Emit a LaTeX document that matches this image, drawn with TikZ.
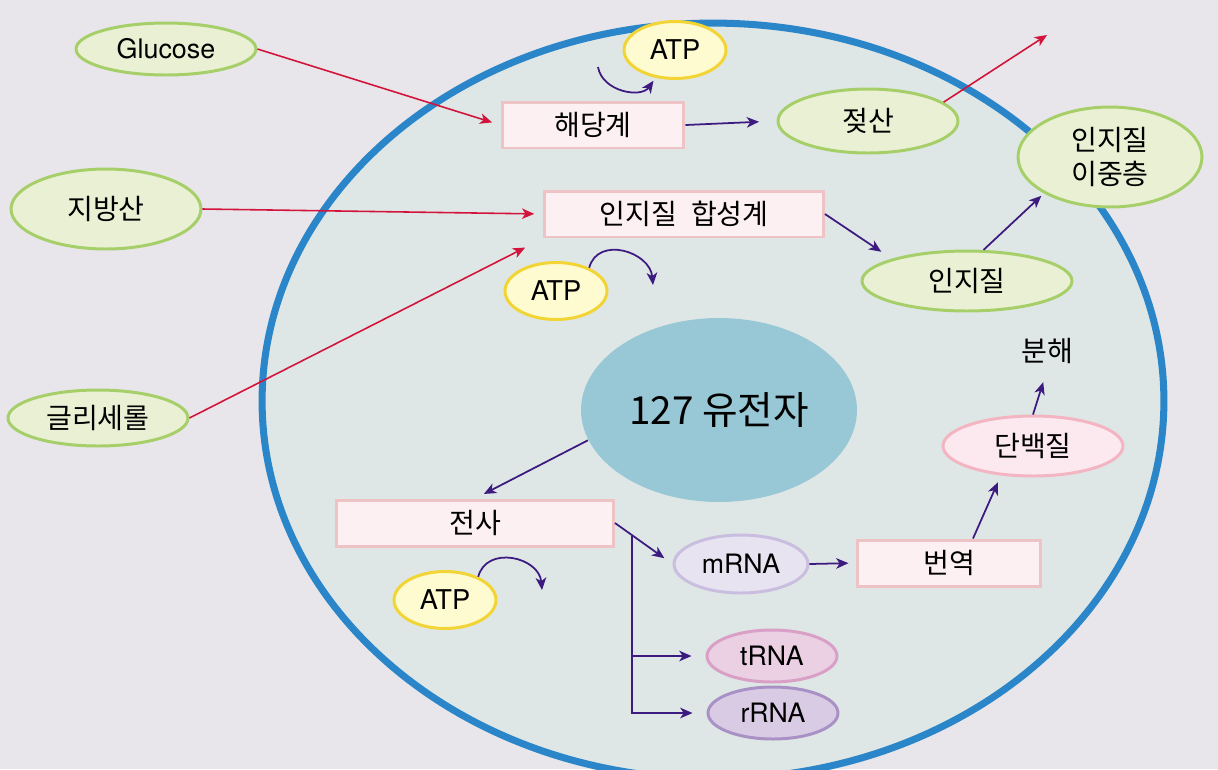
\documentclass[tikz,border=0pt]{standalone}
\usepackage{fontspec}
\setmainfont{Noto Sans CJK KR}
\newfontfamily\latfont{TeX Gyre Heros}
\usetikzlibrary{%
  arrows,%
  arrows.meta,%
  shapes,% wg. ellipse
  positioning%
}
\definecolor{bgcol}{HTML}{E8E6EA}
\definecolor{cellfill}{HTML}{DFE7E6}
\definecolor{cellline}{HTML}{2A86C8}
\definecolor{subfill}{HTML}{EAF0D3}
\definecolor{subline}{HTML}{A6CF6A}
\definecolor{atpfill}{HTML}{FFFBD0}
\definecolor{atpline}{HTML}{F2D434}
\definecolor{boxfill}{HTML}{FDF0F3}
\definecolor{boxline}{HTML}{EDC3C5}
\definecolor{genefill}{HTML}{98C8D6}
\definecolor{protfill}{HTML}{FCE9EF}
\definecolor{protline}{HTML}{F2B5C1}
\definecolor{mfill}{HTML}{E7E3F0}
\definecolor{mline}{HTML}{C9BEDF}
\definecolor{tfill}{HTML}{EAD0E2}
\definecolor{tline}{HTML}{D99FC6}
\definecolor{rfill}{HTML}{D9CBE4}
\definecolor{rline}{HTML}{A991C6}
\definecolor{arrred}{HTML}{D2143A}
\definecolor{arrpurple}{HTML}{3C1A80}

\begin{document}
\begin{tikzpicture}
[x=0.02cm, y=-0.02cm, font=\fontsize{16}{19}\selectfont, line width=0.75pt,
>={Stealth[length=7pt,width=6pt,inset=2pt]},
proc/.style={rectangle, draw=boxline, fill=boxfill, line width=1.7pt, inner sep=0pt, minimum height=0.92cm},
subst/.style={ellipse, draw=subline, fill=subfill, line width=1.7pt, inner sep=0pt},
atp/.style={ellipse, draw=atpline, fill=atpfill, line width=1.7pt, inner sep=0pt, minimum width=2.04cm, minimum height=1.14cm, font=\latfont\fontsize{15.5}{18}\selectfont},
rna/.style={ellipse, line width=1.7pt, inner sep=0pt, minimum width=2.6cm, minimum height=1.04cm, font=\latfont\fontsize{15.2}{18}\selectfont},
redline/.style={->, draw=arrred, line width=0.9pt},
purpline/.style={->, draw=arrpurple, line width=1pt}]

% background and cell
\useasboundingbox (0,0) rectangle (1218,769);
\fill[bgcol] (0,0) rectangle (1218,769);
\draw[cellline, fill=cellfill, line width=4pt] (713,401) ellipse [x radius=9.02cm, y radius=7.56cm];

% substrates
\node[subst, minimum width=3.6cm, minimum height=1.04cm, font=\latfont\fontsize{15.3}{18}\selectfont] (glucose) at (166,49) {Glucose};
\node[subst, minimum width=3.8cm, minimum height=1.6cm] (fatacid) at (106,209) {지방산};
\node[subst, minimum width=3.6cm, minimum height=1.12cm] (glycerol) at (98,418) {글리세롤};
\node[subst, minimum width=3.6cm, minimum height=1.28cm] (lactate) at (868,121) {젖산};
\node[subst, minimum width=3.68cm, minimum height=2.0cm, align=center] (bilayer) at (1110,157) {인지질\\이중층};
\node[subst, minimum width=4.2cm, minimum height=1.2cm] (lipid) at (967,281) {인지질};

% processes
\node[proc, minimum width=3.64cm] (glyco) at (593,125) {해당계};
\node[proc, minimum width=5.58cm] (synth) at (684,214) {인지질\hspace{0.5em}합성계};
\node[proc, minimum width=5.54cm] (transcr) at (475,523) {전사};
\node[proc, minimum width=3.68cm] (transl) at (949,563) {번역};

% ATP
\node[atp] (atp1) at (675,50) {ATP};
\node[atp] (atp2) at (556,291) {ATP};
\node[atp] (atp3) at (445,600) {ATP};

% genes and products
\node[ellipse, fill=genefill, inner sep=0pt, minimum width=5.52cm, minimum height=3.68cm, font=\fontsize{22}{26}\selectfont] (gene) at (719,410) {127 유전자};
\node[ellipse, draw=protline, fill=protfill, line width=1.7pt, inner sep=0pt, minimum width=3.6cm, minimum height=1.2cm] (protein) at (1033,446) {단백질};
\node (decomp) at (1047,351) {분해};
\node[rna, draw=mline, fill=mfill, minimum width=2.68cm, minimum height=1.16cm] (mrna) at (741,564) {mRNA};
\node[rna, draw=tline, fill=tfill] (trna) at (772,656) {tRNA};
\node[rna, draw=rline, fill=rfill] (rrna) at (773,713) {rRNA};

% free ends
\coordinate (lacout) at (1047,35);
\coordinate (atp1in) at (598,67);
\coordinate (atp2out) at (653,285);
\coordinate (atp3out) at (542,590);
\coordinate (branch) at (632,536);

% red arrows
\draw[redline, shorten >=5pt] (glucose.east) -- (glyco.west);
\draw[redline, shorten >=5pt] (fatacid.east) -- (synth.west);
\draw[redline, shorten >=0.4cm] (glycerol.east) -- (synth.south west);
\draw[redline] (lactate.14) -- (lacout);

% purple arrows
\draw[purpline, shorten >=0.35cm] (glyco.east) -- (lactate.west);
\draw[purpline, shorten >=0.25cm] (synth.east) -- (lipid.north west);
\draw[purpline, shorten >=2pt] (lipid.62) -- (bilayer.south west);
\draw[purpline, shorten >=0.25cm] (protein.north) -- (decomp.south);
\draw[purpline, shorten >=3pt] ([xshift=0.48cm]transl.north) -- ([xshift=-0.66cm]protein.south);
\draw[purpline, shorten >=4pt] (mrna.east) -- (transl.west);
\draw[purpline, shorten >=0.2cm] (gene.193) -- (transcr.north);
\draw[purpline, shorten >=0.2cm] (transcr.east) -- (mrna.west);
\draw[purpline, shorten >=0.28cm] (branch) |- (trna.west);
\draw[purpline, shorten >=0.28cm] (branch) |- (rrna.west);

% ATP curves
\draw[purpline, shorten >=2pt] (atp1in) to[out=-80, in=-125, looseness=1.1] (atp1);
\draw[purpline] (atp2.35) to[out=75, in=95, looseness=1.3] (atp2out);
\draw[purpline] (atp3.35) to[out=75, in=95, looseness=1.3] (atp3out);
\end{tikzpicture}
\end{document}
